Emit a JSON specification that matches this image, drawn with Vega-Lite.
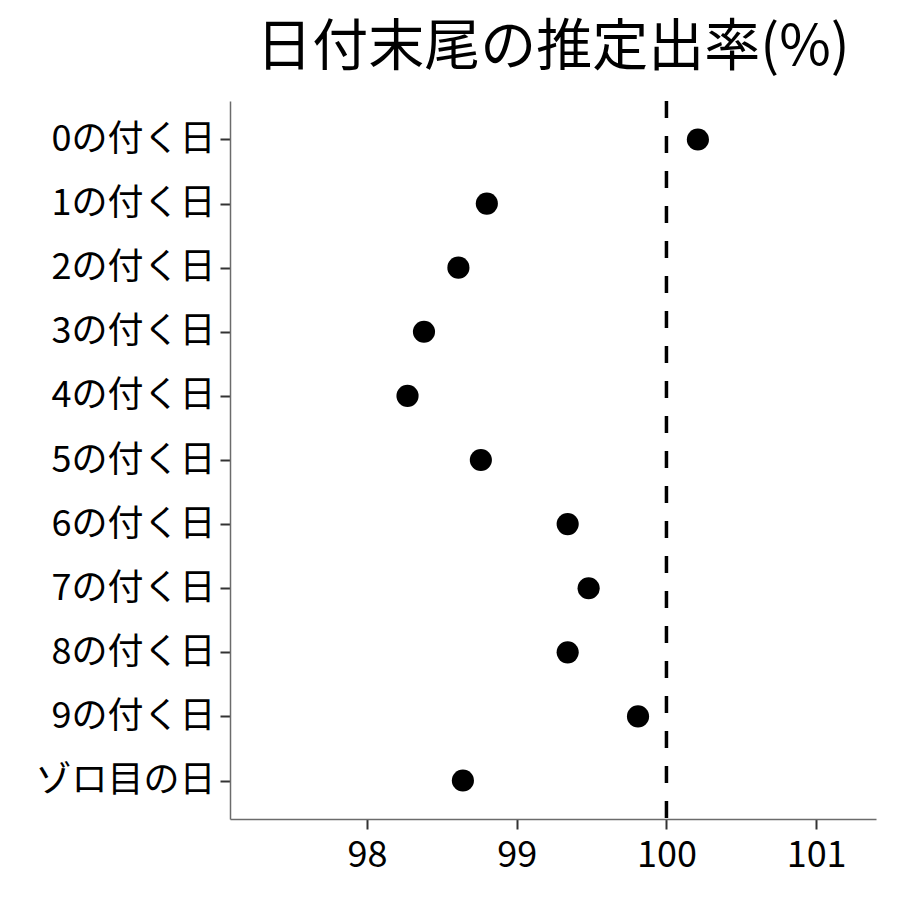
{
  "$schema": "https://vega.github.io/schema/vega-lite/v6.json",
  "autosize": "none",
  "width": 646,
  "height": 718,
  "padding": {"left": 230, "top": 101, "right": 24, "bottom": 81},
  "background": "white",
  "config": {
    "font": "Noto Sans CJK JP",
    "view": {"stroke": null}
  },
  "title": {
    "text": "日付末尾の推定出率(%)",
    "fontSize": 56,
    "font": "Noto Sans CJK JP",
    "fontWeight": "normal",
    "color": "black",
    "anchor": "middle",
    "offset": 22
  },
  "data": {
    "values": [
      {"label": "0の付く日", "rate": 100.21},
      {"label": "1の付く日", "rate": 98.80},
      {"label": "2の付く日", "rate": 98.61},
      {"label": "3の付く日", "rate": 98.38},
      {"label": "4の付く日", "rate": 98.27},
      {"label": "5の付く日", "rate": 98.76},
      {"label": "6の付く日", "rate": 99.34},
      {"label": "7の付く日", "rate": 99.48},
      {"label": "8の付く日", "rate": 99.34},
      {"label": "9の付く日", "rate": 99.81},
      {"label": "ゾロ目の日", "rate": 98.64}
    ]
  },
  "layer": [
    {
      "mark": {"type": "rule", "color": "black", "strokeWidth": 3.5, "strokeDash": [17, 18]},
      "data": {"values": [{"ref": 100}]},
      "encoding": {
        "x": {"field": "ref", "type": "quantitative", "scale": {"domain": [97.084, 101.4], "nice": false, "zero": false}}
      }
    },
    {
      "mark": {"type": "point", "filled": true, "color": "black", "opacity": 1, "size": 490},
      "encoding": {
        "x": {
          "field": "rate",
          "type": "quantitative",
          "title": null,
          "scale": {"domain": [97.084, 101.4], "nice": false, "zero": false},
          "axis": {
            "values": [98, 99, 100, 101],
            "format": "d",
            "grid": false,
            "domainColor": "#6b6b6b",
            "domainWidth": 1.5,
            "tickColor": "#333333",
            "tickWidth": 2,
            "tickSize": 10,
            "labelFontSize": 36,
            "labelColor": "black",
            "labelPadding": 9,
            "labelFont": "Noto Sans CJK JP"
          }
        },
        "y": {
          "field": "label",
          "type": "nominal",
          "title": null,
          "sort": null,
          "scale": {"type": "point", "padding": 0.6},
          "axis": {
            "grid": false,
            "domainColor": "#6b6b6b",
            "domainWidth": 1.5,
            "tickColor": "#333333",
            "tickWidth": 2,
            "tickSize": 10,
            "labelFontSize": 36,
            "labelColor": "black",
            "labelPadding": 5,
            "labelLimit": 0,
            "labelFont": "Noto Sans CJK JP"
          }
        }
      }
    }
  ]
}
